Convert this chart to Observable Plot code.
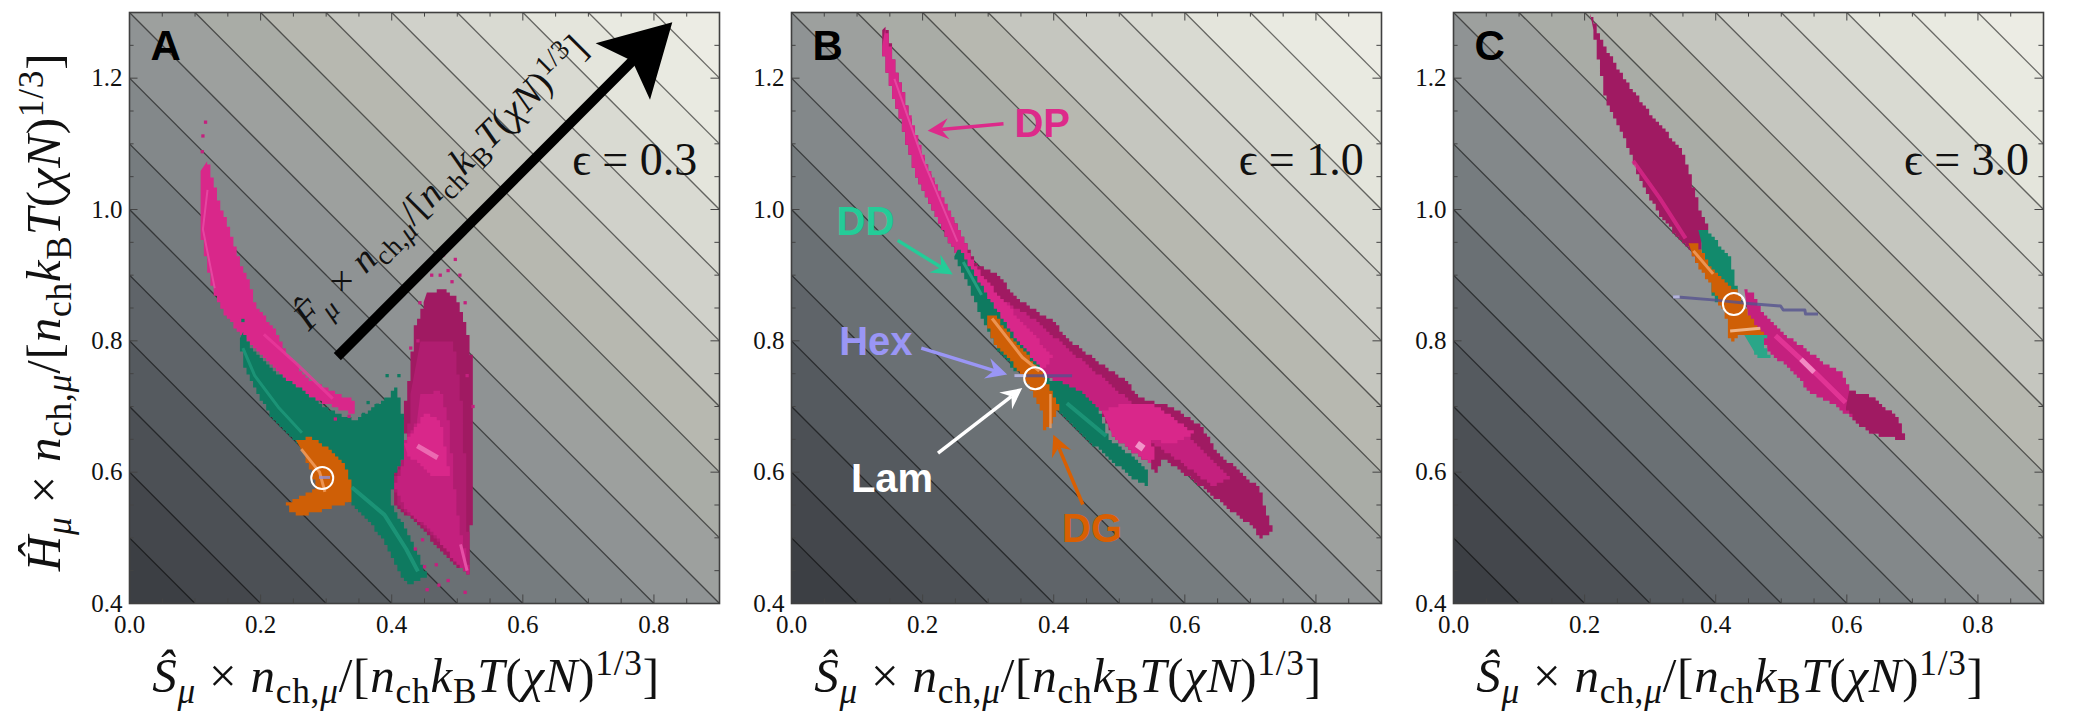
<!DOCTYPE html>
<html>
<head>
<meta charset="utf-8">
<script src="https://cdn.jsdelivr.net/npm/d3@7"></script>
<script src="https://cdn.jsdelivr.net/npm/@observablehq/plot@0.6"></script>
<style>
  body { margin: 0; background: white; }
  #page { position: relative; width: 2100px; height: 716px; overflow: hidden; }
  #page svg { position: absolute; top: 0; background: transparent; overflow: visible; }
</style>
</head>
<body>
<div id="page"></div>
<script>
// axis ticks
const majorX = [0, 0.2, 0.4, 0.6, 0.8];
const majorY = [0.4, 0.6, 0.8, 1.0, 1.2];
const minorX = [0.05, 0.1, 0.15, 0.25, 0.3, 0.35, 0.45, 0.5, 0.55, 0.65, 0.7, 0.75, 0.85];
const minorY = [0.45, 0.5, 0.55, 0.65, 0.7, 0.75, 0.85, 0.9, 0.95, 1.05, 1.1, 1.15, 1.25];

// free energy contours (S + H) and the flat colour of each band between them
const contourLevels = [0.5, 0.6, 0.7, 0.8, 0.9, 1.0, 1.1, 1.2, 1.3, 1.4, 1.5, 1.6, 1.7, 1.8, 1.9, 2.0, 2.1];
const bandColors = ["#3c3f44", "#44474c", "#4c5055", "#555a5f", "#5f6469", "#6a7074", "#767c7f", "#83888a", "#8f9394", "#9da09e", "#a9aca6", "#b7b8b0", "#c5c6bf", "#d0d1ca", "#d9dad2", "#e4e5dc", "#e9eae1", "#ecece4"];

// colours
const dpDark = "#a01a62", dpDeep = "#b01d70", dpMid = "#c4207e", dpBright = "#d9278a", dpHot = "#f07cbc";
const ddDark = "#0e7a60", ddMid = "#128a6c", ddBright = "#2aa688", dgBase = "#cf5f06", dgPale = "#f2a165";
const hexBase = "#55538f", hexPale = "#c8c8ec";

// panel A outlines, [S, H]
const dpCrescentA = [[.119,1.074],[.130,1.039],[.140,1.004],[.155,.963],[.170,.921],[.181,.886],[.195,.851],[.217,.817],[.242,.775],[.271,.744],[.306,.723],[.342,.707],[.342,.688],[.306,.702],[.271,.719],[.235,.751],[.199,.782],[.170,.813],[.148,.838],[.130,.872],[.119,.921],[.109,.969],[.107,1.018],[.109,1.060]];
const dpLobeA = [[.454,.872],[.479,.879],[.501,.865],[.512,.817],[.522,.761],[.522,.671],[.522,.594],[.519,.445],[.494,.466],[.468,.490],[.443,.518],[.404,.553],[.400,.594],[.422,.629],[.420,.692],[.429,.761],[.436,.817],[.447,.858]];
const dpLobeTierA = [[.445,.800],[.495,.800],[.508,.690],[.512,.560],[.519,.450],[.490,.480],[.450,.520],[.410,.556],[.405,.590],[.424,.640],[.428,.720]];
const dpLobeMidA = [[.444,.720],[.474,.724],[.489,.663],[.494,.587],[.505,.516],[.517,.446],[.494,.470],[.463,.507],[.424,.542],[.402,.577],[.418,.618],[.421,.648],[.439,.679]];
const dpLobeBrightA = [[.418,.644],[.448,.689],[.474,.679],[.485,.618],[.489,.592],[.463,.592],[.444,.613],[.424,.628]];
const ddA = [[.173,.813],[.184,.789],[.220,.754],[.263,.723],[.306,.695],[.342,.681],[.371,.699],[.400,.718],[.404,.735],[.414,.706],[.419,.671],[.418,.622],[.404,.594],[.399,.556],[.404,.539],[.429,.497],[.454,.438],[.429,.429],[.414,.442],[.393,.490],[.371,.525],[.339,.553],[.306,.594],[.253,.650],[.220,.685],[.191,.726],[.173,.768],[.168,.803]];
const dgA = [[.255,.647],[.274,.653],[.306,.633],[.328,.608],[.339,.581],[.339,.553],[.306,.542],[.271,.535],[.249,.538],[.238,.554],[.263,.563],[.285,.581],[.278,.601],[.267,.622]];
const dpSpecksA = [[.116,1.133],[.112,1.112],[.111,1.088],[.479,.931],[.468,.921],[.497,.924],[.461,.900],[.486,.907],[.504,.900],[.443,.858],[.512,.858],[.429,.789],[.454,.421],[.472,.428],[.512,.417],[.450,.456],[.468,.459],[.486,.435],[.436,.483],[.447,.497],[.515,.747],[.314,.681],[.335,.685],[.474,.900],[.492,.890],[.440,.800],[.524,.700]];
const ddSpecksA = [[.364,.706],[.393,.747],[.411,.747],[.378,.702],[.357,.688],[.173,.831]];
const ddStreakUpperA = [[.173,.789],[.191,.747],[.227,.699],[.263,.660]];
const ddStreakLowerA = [[.339,.577],[.389,.535],[.422,.483],[.440,.449]];
const dpStreakA = [[.119,1.030],[.112,.970],[.130,.880]];
const dpStreakCrescentA = [[.205,.810],[.255,.765],[.310,.712]];
const dpHotA = [[.439,.640],[.470,.622]];
const dpTailA = [[.505,.490],[.515,.450]];
const dgStreakA = [[.262,.635],[.290,.600],[.298,.570]];
const hexA = [[.289,.592],[.306,.592]];

// panel B outlines
const dpB = [[.142,1.276],[.147,1.265],[.153,1.233],[.163,1.199],[.177,1.150],[.190,1.101],[.206,1.060],[.229,1.011],[.256,.963],[.279,.921],[.312,.900],[.345,.865],[.372,.844],[.398,.831],[.418,.803],[.444,.782],[.478,.758],[.511,.740],[.530,.713],[.577,.699],[.623,.667],[.649,.629],[.683,.601],[.716,.574],[.726,.539],[.734,.511],[.719,.501],[.702,.518],[.669,.546],[.636,.574],[.597,.601],[.570,.622],[.560,.601],[.554,.598],[.547,.612],[.517,.633],[.491,.660],[.474,.695],[.444,.719],[.411,.733],[.385,.754],[.358,.782],[.332,.817],[.299,.858],[.272,.900],[.263,.921],[.233,.963],[.211,1.011],[.194,1.046],[.177,1.094],[.163,1.150],[.150,1.199],[.138,1.247],[.140,1.275]];
const dpMidB = [[.319,.865],[.372,.830],[.424,.782],[.478,.740],[.517,.706],[.583,.678],[.630,.629],[.669,.587],[.642,.580],[.597,.615],[.570,.636],[.550,.650],[.474,.695],[.444,.719],[.411,.733],[.385,.754],[.352,.782]];
const dpBrightB = [[.142,1.276],[.153,1.233],[.177,1.150],[.206,1.060],[.256,.963],[.279,.914],[.319,.865],[.358,.817],[.398,.775],[.385,.754],[.358,.782],[.332,.817],[.299,.858],[.272,.900],[.263,.921],[.233,.963],[.211,1.011],[.194,1.046],[.177,1.094],[.163,1.150],[.150,1.199],[.138,1.247]];
const dpLowerB = [[.474,.695],[.504,.706],[.550,.706],[.616,.657],[.583,.646],[.550,.650],[.556,.622],[.547,.612],[.517,.633],[.491,.660]];
const dpHotB = [[.527,.643],[.537,.636]];
const dpRidgeB = [[.157,1.199],[.200,1.077],[.253,.951]];
const ddUpperB = [[.251,.938],[.259,.935],[.272,.907],[.306,.858],[.345,.799],[.378,.761],[.362,.751],[.345,.754],[.319,.782],[.292,.831],[.272,.879],[.259,.910],[.249,.931]];
const ddLowerB = [[.385,.744],[.405,.740],[.438,.726],[.471,.695],[.484,.650],[.517,.622],[.545,.601],[.545,.581],[.517,.594],[.484,.622],[.444,.657],[.411,.692],[.395,.719]];
const ddStreakB = [[.262,.920],[.290,.870]];
const ddStreakLowerB = [[.420,.705],[.480,.655]];
const dgB = [[.299,.839],[.309,.838],[.345,.792],[.378,.754],[.401,.719],[.410,.692],[.395,.667],[.386,.665],[.385,.688],[.372,.713],[.358,.737],[.332,.775],[.309,.799],[.299,.831]];
const dgStreakB = [[.306,.834],[.352,.775],[.378,.754]];
const dgStreakLowerB = [[.395,.719],[.395,.667]];
const hexB = [[.340,.747],[.428,.747]];
const hexPaleB = [[.340,.747],[.358,.747]];

// panel C outlines
const dpUpperC = [[.210,1.298],[.218,1.275],[.228,1.247],[.261,1.192],[.301,1.136],[.347,1.088],[.357,1.060],[.370,1.025],[.380,.990],[.390,.969],[.380,.956],[.374,.921],[.360,.942],[.347,.956],[.321,.990],[.288,1.039],[.261,1.101],[.235,1.164],[.222,1.219],[.212,1.275]];
const dpLowerC = [[.443,.879],[.456,.872],[.473,.838],[.506,.810],[.532,.789],[.559,.768],[.595,.751],[.605,.726],[.638,.713],[.678,.681],[.688,.650],[.671,.653],[.638,.660],[.612,.678],[.585,.702],[.546,.726],[.519,.754],[.486,.782],[.460,.817],[.450,.844]];
const dpEndC = [[.605,.726],[.638,.713],[.678,.681],[.688,.650],[.671,.653],[.638,.660],[.612,.678],[.598,.700]];
const dpRidgeUpperC = [[.274,1.074],[.314,1.018],[.354,.956]];
const dpRidgeC = [[.491,.808],[.544,.759],[.598,.706]];
const dpHotC = [[.530,.772],[.550,.752]];
const ddUpperC = [[.373,.968],[.384,.968],[.422,.925],[.430,.887],[.434,.873],[.399,.857],[.392,.887],[.384,.917],[.380,.948]];
const ddLowerC = [[.442,.808],[.479,.811],[.476,.790],[.483,.773],[.471,.773],[.460,.782]];
const dgC = [[.358,.948],[.369,.949],[.392,.911],[.412,.887],[.433,.872],[.445,.851],[.465,.820],[.473,.811],[.433,.808],[.430,.800],[.419,.808],[.418,.831],[.412,.846],[.402,.864],[.389,.895],[.380,.911],[.366,.933]];
const dgStreakUpperC = [[.366,.937],[.396,.902]];
const dgStreakLowerC = [[.422,.815],[.468,.819]];
const hexC = [[.335,.867],[.351,.866],[.400,.862],[.450,.857],[.499,.853],[.503,.847],[.536,.847],[.537,.841],[.556,.841]];
const hexPaleC = [[.335,.867],[.345,.867]];

// the big arrow of panel A
const bigArrowShaft = [[.317,.776],[.775,1.234]];
const bigArrowHead = [[.828,1.285],[.711,1.253],[.767,1.226],[.794,1.167]];

// annotations of panel B
const phaseNames = ["DP", "DD", "Hex", "Lam", "DG"];
const phaseColors = ["#dd2a8a", "#24cc98", "#9a96f5", "#ffffff", "#d95f02"];
const phaseLabelS = [.340, .0688, .0727, .0906, .4127];
const phaseLabelH = [1.110, .961, .778, .570, .494];
const phaseTailS = [.3234, .162, .198, .2235, .4444];
const phaseTailH = [1.1306, .953, .789, .629, .5507];
const phaseTipS = [.2077, .246, .329, .352, .3995];
const phaseTipH = [1.120, .901, .7486, .728, .657];

const panels = [
  {letter: "A", epsilon: "ϵ = 0.3", epsS: .866, left: 0, marginLeft: 129, marginRight: 10, ring: [.294, .591], yLabel: true,
   fills: [[dpCrescentA, dpBright], [dpLobeA, dpDark], [dpLobeTierA, dpDeep], [dpLobeMidA, dpMid], [dpLobeBrightA, dpBright], [ddA, ddDark], [dgA, dgBase]],
   streaks: [[dpStreakA, "#e84da6", 2], [dpStreakCrescentA, "#e8399b", 3], [dpHotA, dpHot, 5], [dpTailA, "#ee5db0", 3], [ddStreakUpperA, "#1f9a7c", 3], [ddStreakLowerA, "#1f9a7c", 4], [dgStreakA, dgPale, 3], [hexA, "#8f8fd8", 3]],
   specks: [[dpSpecksA, dpMid], [ddSpecksA, ddDark]]},
  {letter: "B", epsilon: "ϵ = 1.0", epsS: .873, left: 721, marginLeft: 70, marginRight: 10, ring: [.3717, .743],
   fills: [[dpB, dpDark], [dpMidB, dpMid], [dpBrightB, dpBright], [dpLowerB, dpBright], [ddUpperB, ddDark], [ddLowerB, ddDark], [dgB, dgBase]],
   streaks: [[dpRidgeB, "#e84da6", 2], [dpHotB, "#f8b0d8", 7], [ddStreakB, ddBright, 3], [ddStreakLowerB, "#1f9a7c", 4], [dgStreakB, dgPale, 3], [dgStreakLowerB, dgPale, 2.5], [hexB, hexBase, 3], [hexPaleB, hexPale, 3]],
   specks: []},
  {letter: "C", epsilon: "ϵ = 3.0", epsS: .878, left: 1383, marginLeft: 70, marginRight: 10, ring: [.4277, .856],
   fills: [[dpUpperC, dpDark], [dpLowerC, dpMid], [dpEndC, dpDark], [ddUpperC, ddMid], [ddLowerC, ddBright], [dgC, dgBase]],
   streaks: [[dpRidgeUpperC, dpBright, 4], [dpRidgeC, "#e8399b", 5], [dpHotC, "#f8a0d0", 5], [dgStreakUpperC, dgPale, 3], [dgStreakLowerC, "#f5c9a8", 3], [hexC, hexBase, 3], [hexPaleC, hexPale, 3]],
   specks: []}
];

const serif = "'Liberation Serif', 'DejaVu Serif', serif";
const sans = "'Liberation Sans', Arial, sans-serif";
const px = d => d[0];
const py = d => d[1];
const cellSize = 0.005 * 656;

// d3 curve that walks an outline in histogram sized stairs
function pixelCurve(context) {
  let x0, y0, first;
  const snap = v => Math.round(v / cellSize) * cellSize;
  return {
    areaStart() {}, areaEnd() {},
    lineStart() { first = true; },
    lineEnd() { context.closePath(); },
    point(x, y) {
      x = snap(x); y = snap(y);
      if (first) { context.moveTo(x, y); first = false; }
      else {
        const n = Math.max(1, Math.round(Math.max(Math.abs(x - x0), Math.abs(y - y0)) / cellSize));
        let ly = y0;
        for (let i = 1; i <= n; i++) {
          const xi = snap(x0 + (x - x0) * i / n), yi = snap(y0 + (y - y0) * i / n);
          context.lineTo(xi, ly);
          context.lineTo(xi, yi);
          ly = yi;
        }
      }
      x0 = x; y0 = y;
    }
  };
}

function arrowHead(i) {
  const dx = phaseTipS[i] - phaseTailS[i], dy = phaseTipH[i] - phaseTailH[i];
  const n = Math.hypot(dx, dy), ux = dx / n, uy = dy / n, len = .032, w = .016;
  const x = phaseTipS[i], y = phaseTipH[i];
  return [[x, y], [x - ux * len - uy * w, y - uy * len + ux * w], [x - ux * len * .65, y - uy * len * .65], [x - ux * len + uy * w, y - uy * len - ux * w]];
}

// math label with sub and superscripts, as real text
function mathLabel(svg, first, x, y, angle, size) {
  const parts = [
    [first, "i", 0], ["μ", "i", .22], [" × ", "", 0], ["n", "i", 0], ["ch,", "", .22], ["μ", "i", .22], ["/[", "", 0],
    ["n", "i", 0], ["ch", "", .22], ["k", "i", 0], ["B", "", .22], ["T", "i", 0], ["(", "", 0], ["χN", "i", 0], [")", "", 0], ["1/3", "", -.34], ["]", "", 0]
  ];
  const text = d3.select(svg).append("text")
    .attr("transform", `translate(${x},${y}) rotate(${angle})`)
    .attr("text-anchor", "middle").attr("font-family", serif).attr("font-size", size)
    .attr("letter-spacing", size * .016)
    .attr("fill", "#111").style("white-space", "pre");
  let shift = 0;
  parts.forEach(([t, style, off]) => {
    text.append("tspan").text(t)
      .attr("dy", (off - shift) * size)
      .attr("font-style", style === "i" ? "italic" : "normal")
      .attr("font-size", off === 0 ? size : off < 0 ? size * .72 : size * .72);
    shift = off;
  });
}

const page = document.getElementById("page");

panels.forEach(p => {
  const marks = [
    Plot.raster({x1: 0, x2: .9, y1: .4, y2: 1.3, fill: (x, y) => x + y, pixelSize: 1}),
    Plot.link(contourLevels, {x1: d => d - 1.3, y1: 1.3, x2: d => d - .4, y2: .4, stroke: "black", strokeWidth: 1.3, strokeOpacity: .55, clip: true})
  ];
  p.fills.forEach(([outline, color]) => {
    marks.push(Plot.line(outline, {x: px, y: py, fill: color, stroke: "none", curve: pixelCurve}));
  });
  p.specks.forEach(([points, color]) => {
    marks.push(Plot.dot(points, {x: px, y: py, symbol: "square", r: 1.85, fill: color}));
  });
  p.streaks.forEach(([points, color, width]) => {
    marks.push(Plot.line(points, {x: px, y: py, stroke: color, strokeWidth: width, strokeOpacity: .8, strokeLinecap: "butt"}));
  });
  marks.push(Plot.dot([p.ring], {x: px, y: py, r: 11, stroke: "white", strokeWidth: 2, fill: "none"}));

  // ticks point inward on all four sides
  [[minorX, .007], [majorX, .013]].forEach(([ticks, len]) => {
    marks.push(Plot.ruleX(ticks, {y1: .4, y2: .4 + len, stroke: "#444", strokeWidth: 1}));
    marks.push(Plot.ruleX(ticks, {y1: 1.3, y2: 1.3 - len, stroke: "#444", strokeWidth: 1}));
  });
  [[minorY, .007], [majorY, .013]].forEach(([ticks, len]) => {
    marks.push(Plot.ruleY(ticks, {x1: 0, x2: len, stroke: "#444", strokeWidth: 1}));
    marks.push(Plot.ruleY(ticks, {x1: .9, x2: .9 - len, stroke: "#444", strokeWidth: 1}));
  });
  marks.push(Plot.frame({stroke: "#404040", strokeWidth: 1.6}));
  marks.push(Plot.axisX({ticks: majorX, tickSize: 0, tickPadding: 12, tickFormat: ".1f", fontSize: 25, label: null, fill: "#111"}));
  marks.push(Plot.axisY({ticks: majorY, tickSize: 0, tickPadding: 7, tickFormat: ".1f", fontSize: 25, label: null, fill: "#111"}));

  marks.push(Plot.text([p.epsilon], {x: p.epsS, y: 1.052, text: d => d, textAnchor: "end", lineAnchor: "bottom", fontSize: 46, fontFamily: serif, fill: "#111"}));
  marks.push(Plot.text([p.letter], {x: .032, y: 1.228, text: d => d, textAnchor: "start", lineAnchor: "bottom", fontSize: 42, fontFamily: sans, fontWeight: "bold", fill: "#000"}));

  if (p.letter === "A") {
    marks.push(Plot.line(bigArrowShaft, {x: px, y: py, stroke: "black", strokeWidth: 10, strokeLinecap: "butt"}));
    marks.push(Plot.line(bigArrowHead, {x: px, y: py, fill: "black", stroke: "none"}));
  }
  if (p.letter === "B") {
    phaseNames.forEach((name, i) => {
      const head = arrowHead(i);
      marks.push(Plot.link([i], {x1: phaseTailS[i], y1: phaseTailH[i], x2: head[2][0], y2: head[2][1], stroke: phaseColors[i], strokeWidth: 3.5}));
      marks.push(Plot.line(head, {x: px, y: py, fill: phaseColors[i], stroke: "none"}));
      marks.push(Plot.text([name], {x: phaseLabelS[i], y: phaseLabelH[i], text: d => d, textAnchor: "start", lineAnchor: "bottom", fontSize: 40, fontFamily: sans, fontWeight: "bold", fill: phaseColors[i]}));
    });
  }

  const chart = Plot.plot({
    width: p.marginLeft + 590 + p.marginRight,
    height: 716,
    marginTop: 12,
    marginBottom: 113,
    marginLeft: p.marginLeft,
    marginRight: p.marginRight,
    style: {background: "transparent", fontFamily: serif, overflow: "visible"},
    x: {domain: [0, .9]},
    y: {domain: [.4, 1.3]},
    color: {type: "threshold", domain: contourLevels, range: bandColors},
    marks
  });
  chart.style.left = p.left + "px";
  page.append(chart);

  const fx = chart.scale("x").apply, fy = chart.scale("y").apply;
  mathLabel(chart, "Ŝ", p.marginLeft + 277, 692, 0, 49);
  if (p.yLabel) mathLabel(chart, "Ĥ", 60, 312, -90, 49);
  if (p.letter === "A") mathLabel(chart, "F̂", fx(.4827) + 4, fy(1.035) + 5, -45, 38);
});
</script>
</body>
</html>
